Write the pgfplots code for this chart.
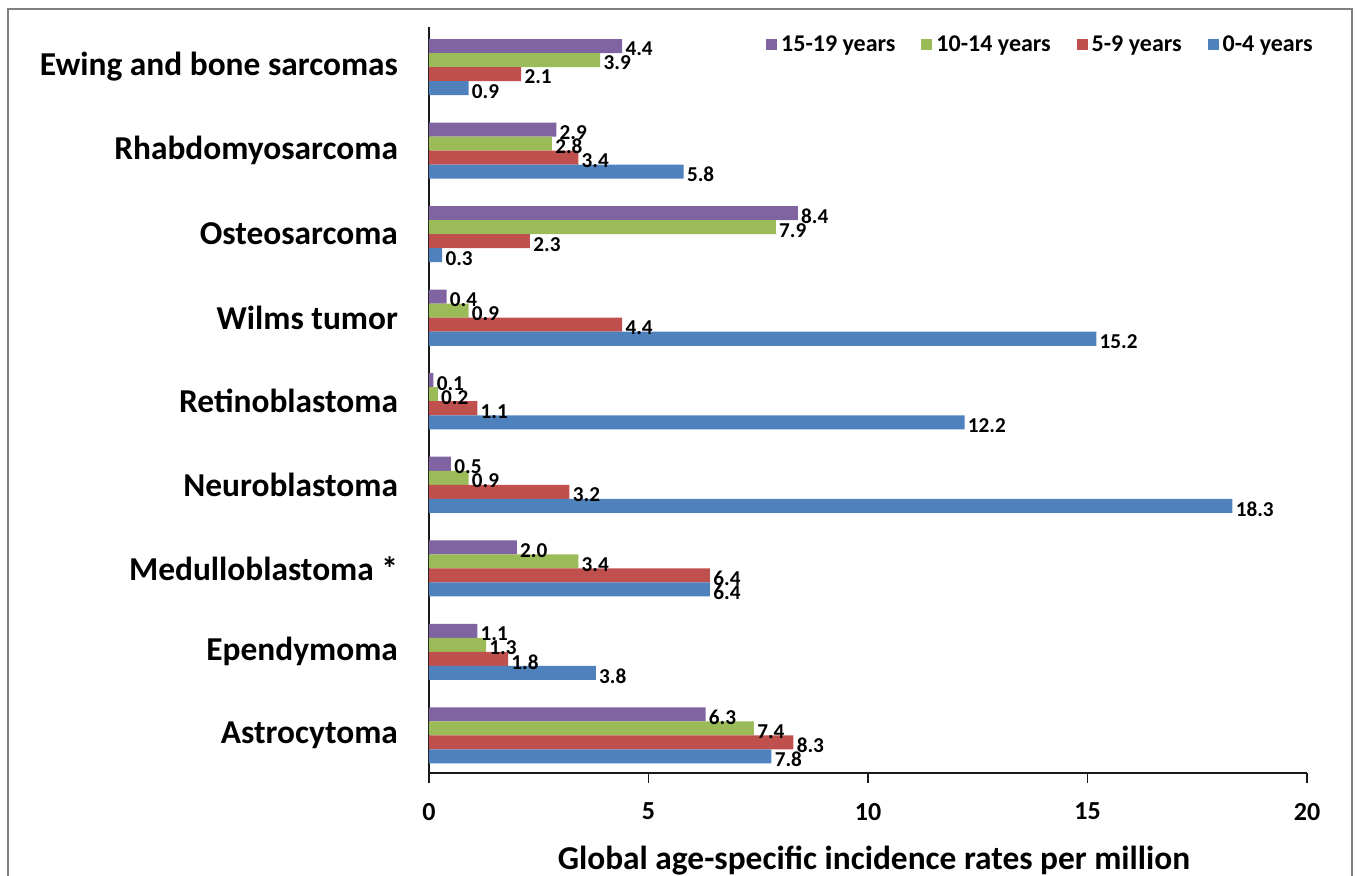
\documentclass[border=0pt]{standalone}
\usepackage{fontspec}
\setmainfont{Carlito}
\usepackage{pgfplots}
\pgfplotsset{compat=1.18}
\usepackage{pgfplotstable}
\usetikzlibrary{calc}

\definecolor{c1519}{RGB}{128,100,162}
\definecolor{c1014}{RGB}{155,187,89}
\definecolor{c0509}{RGB}{192,80,77}
\definecolor{c0004}{RGB}{79,129,189}

% one row per tumour type, from the bottom (Astrocytoma, pos 0) to the top (Ewing, pos 8)
\pgfplotstableread{
pos a1519 a1014 a0509 a0004
0 6.3 7.4 8.3 7.8
1 1.1 1.3 1.8 3.8
2 2.0 3.4 6.4 6.4
3 0.5 0.9 3.2 18.3
4 0.1 0.2 1.1 12.2
5 0.4 0.9 4.4 15.2
6 8.4 7.9 2.3 0.3
7 2.9 2.8 3.4 5.8
8 4.4 3.9 2.1 0.9
}\incidence

\begin{document}
\begin{tikzpicture}
\begin{axis}[
  scale only axis,
  width=439pt, height=373pt,
  xmin=0, xmax=20, ymin=-0.45, ymax=8.48,
  xbar, bar width=0.168,
  axis x line*=bottom, axis y line*=left,
  every outer x axis line/.append style={-},
  every outer y axis line/.append style={-},
  axis line style={line width=0.9pt, black!90},
  xtick={0,5,10,15,20},
  xtick align=outside,
  major tick length=5pt,
  xtick style={line width=0.9pt, black!90},
  ytick={0,...,8},
  yticklabels={Astrocytoma, Ependymoma, Medulloblastoma *, Neuroblastoma,
    Retinoblastoma, Wilms tumor, Osteosarcoma, Rhabdomyosarcoma,
    Ewing and bone sarcomas},
  ytick style={draw=none},
  yticklabel style={font=\fontsize{16.7}{18}\selectfont\bfseries, xshift=-7pt},
  xticklabel style={font=\fontsize{13}{15}\selectfont\bfseries, yshift=-6.5pt},
  /pgf/number format/assume math mode=true,
  xlabel={Global age-specific incidence rates per million},
  every axis x label/.style={at={(axis description cs:0.5,0)}, anchor=center,
    yshift=-44pt, xshift=3pt, font=\fontsize{16.7}{18}\selectfont\bfseries},
  point meta=x,
  nodes near coords={\pgfmathprintnumber[fixed,fixed zerofill,precision=1]{\pgfplotspointmeta}},
  nodes near coords style={anchor=west, inner sep=1.5pt, yshift=-1.5pt,
    font=\fontsize{10.6}{12}\selectfont\bfseries, text=black},
  legend columns=4,
  legend style={at={(rel axis cs:1,1)}, anchor=east, xshift=8pt, yshift=-9pt,
    draw=none, fill=none, font=\fontsize{12}{14}\selectfont\bfseries,
    /tikz/every even column/.append style={column sep=11pt}},
  legend image code/.code={\fill[#1] (0pt,-2.75pt) rectangle (5.5pt,2.75pt);},
]
\addplot[draw=none, fill=c1519, bar shift=0.252] table[x=a1519, y=pos] {\incidence};
\addlegendentry{15-19 years}
\addplot[draw=none, fill=c1014, bar shift=0.084] table[x=a1014, y=pos] {\incidence};
\addlegendentry{10-14 years}
\addplot[draw=none, fill=c0509, bar shift=-0.084] table[x=a0509, y=pos] {\incidence};
\addlegendentry{5-9 years}
\addplot[draw=none, fill=c0004, bar shift=-0.252] table[x=a0004, y=pos] {\incidence};
\addlegendentry{0-4 years}
\coordinate (sw) at (rel axis cs:0,0);
\coordinate (ne) at (rel axis cs:1,1);
\end{axis}
\pgfresetboundingbox
\path[use as bounding box] ($(sw)+(-214.5pt,-51.5pt)$) rectangle ($(ne)+(25pt,13.5pt)$);
% figure frame, open at the bottom
\draw[line width=1pt, black!50]
  ($(sw)+(-210.5pt,-60pt)$) |- ($(ne)+(0,9pt)$) -- ($(ne)+(22.5pt,9pt)$)
  -- ($(ne|-sw)+(22.5pt,-60pt)$);
\end{tikzpicture}
\end{document}
